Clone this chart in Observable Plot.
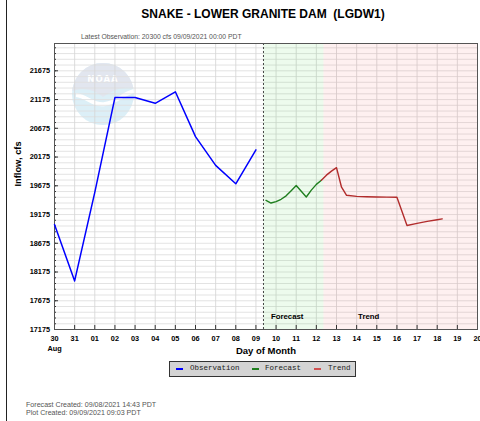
<!DOCTYPE html>
<html>
<head>
<meta charset="utf-8">
<script src="https://cdn.jsdelivr.net/npm/d3@7"></script>
<script src="https://cdn.jsdelivr.net/npm/@observablehq/plot@0.6"></script>
<style>
  body { margin: 0; background: #fff; font-family: Arial, "Liberation Sans", sans-serif; }
  #page { position: relative; width: 480px; height: 421px; overflow: hidden; background: #fff; }
  #edge { position: absolute; left: 6px; top: 0; height: 421px; border-left: 1.5px solid #222; }
  #title { position: absolute; left: 0; top: 7px; width: 526px; text-align: center; font-weight: bold; font-size: 12px; white-space: pre; color: #000; }
  #subtitle { position: absolute; left: 81px; top: 33px; font-size: 6.8px; color: #555; white-space: pre; }
  #chart { position: absolute; left: 0; top: 30px; }
  #legend { position: absolute; left: 169px; top: 361px; width: 185px; height: 14px; background: #d4d4d4; border: 1px solid #333; font-family: "Liberation Mono", "DejaVu Sans Mono", monospace; font-size: 7.5px; color: #222; }
  #legend .sw { position: absolute; top: 6px; width: 7px; height: 2px; }
  #legend .lb { position: absolute; top: 2px; white-space: pre; }
  #footer { position: absolute; left: 26px; top: 401px; font-size: 7.1px; color: #555; line-height: 8.3px; white-space: pre; }
</style>
</head>
<body>
<div id="page">
  <div id="edge"></div>
  <div id="title"></div>
  <div id="subtitle"></div>
  <div id="chart"></div>
  <div id="legend"></div>
  <div id="footer"></div>
</div>
<script>
// ---- Data ----
const titleText = "SNAKE - LOWER GRANITE DAM  (LGDW1)";
const subtitleText = "Latest Observation: 20300 cfs 09/09/2021 00:00 PDT";
const footerLines = ["Forecast Created: 09/08/2021 14:43 PDT", "Plot Created: 09/09/2021 09:03 PDT"];
const xTitle = "Day of Month";
const yTitle = "Inflow, cfs";

// day index 0 = Aug 30
const dayTicks = [0,1,2,3,4,5,6,7,8,9,10,11,12,13,14,15,16,17,18,19,20,21];
const dayLabels = ["30","31","01","02","03","04","05","06","07","08","09","10","11","12","13","14","15","16","17","18","19","20"];
const monthLabels = [{day: 0, text: "Aug"}];
const yMajor = [17175,17675,18175,18675,19175,19675,20175,20675,21175,21675];
const yDomain = [17175, 22150];

const obsDays = [0,1,2,3,4,5,6,7,8,9,10];
const obsFlow = [19000,18020,19560,21210,21210,21110,21310,20530,20030,19710,20300];

const fcDays = [10.5,10.75,11.0,11.25,11.5,11.75,12.0,12.25,12.5,12.75,13.0,13.25];
const fcFlow = [19420,19375,19400,19440,19500,19590,19680,19580,19480,19600,19700,19770];

const trDays = [13.25,13.5,13.75,14.0,14.25,14.5,15.0,15.5,16.0,16.5,17.0,17.5,18.0,18.5,19.0,19.25];
const trFlow = [19770,19860,19930,19990,19650,19510,19490,19485,19480,19478,19476,18985,19020,19055,19085,19100];

const nowDay = 10.375; // plot created 09/09 09:00
const regionNames = ["Forecast", "Trend"];
const regionStart = [10.375, 13.375];
const regionEnd = [13.375, 21];
const regionLabelDay = [11.55, 15.6];
const regionFill = ["#12c812", "#f03030"];

const seriesNames = ["Observation", "Forecast", "Trend"];
const seriesColors = ["#0000ff", "#1f7f1f", "#b22c2c"];
const legendColors = ["#0000ff", "#1f7f1f", "#d05050"];

// ---- Build tables ----
const obs = obsDays.map((d, i) => ({day: d, flow: obsFlow[i]}));
const fc = fcDays.map((d, i) => ({day: d, flow: fcFlow[i]}));
const tr = trDays.map((d, i) => ({day: d, flow: trFlow[i]}));
const regions = regionNames.map((n, i) => ({name: n, start: regionStart[i], end: regionEnd[i], labelDay: regionLabelDay[i], fill: regionFill[i]}));
const yMinor = d3.range(yDomain[0], yDomain[1], 100);

document.getElementById("title").textContent = titleText;
document.getElementById("subtitle").textContent = subtitleText;
document.getElementById("footer").textContent = footerLines.join("\n");

// NOAA watermark (decoration), placed relative to the frame
function noaaLogo(index, scales, values, dims) {
  const ns = "http://www.w3.org/2000/svg";
  const cx = dims.marginLeft + 49, cy = dims.marginTop + 51, r = 31;
  const g = document.createElementNS(ns, "g");
  g.setAttribute("opacity", "0.85");
  g.innerHTML = `
    <defs><clipPath id="noaaclip"><circle cx="${cx}" cy="${cy}" r="${r}"/></clipPath></defs>
    <g clip-path="url(#noaaclip)">
      <rect x="${cx - r}" y="${cy - r}" width="${2*r}" height="${2*r}" fill="#d6edf6"/>
      <path d="M${cx - r},${cy - r} H${cx + r} V${cy - 6} C${cx + 20},${cy - 8} ${cx + 10},${cy - 4} ${cx},${cy + 3} C${cx - 8},${cy - 4} ${cx - 18},${cy - 7} ${cx - r},${cy - 3} Z" fill="#dde2ed"/>
      <path d="M${cx - r + 4},${cy + 1} C${cx - 16},${cy + 2} ${cx - 10},${cy + 12} ${cx + 2},${cy + 10} C${cx + 14},${cy + 8} ${cx + 20},${cy} ${cx + r},${cy - 3}" fill="none" stroke="#ffffff" stroke-width="4"/>
    </g>
    <text x="${cx}" y="${cy - 12}" text-anchor="middle" font-family="'DejaVu Sans', Arial, sans-serif" font-weight="bold" font-size="8.5" fill="#ffffff" letter-spacing="1">NOAA</text>`;
  return g;
}

const fontFamily = "Arial, 'Liberation Sans', sans-serif";

const chart = Plot.plot({
  width: 480,
  height: 330,
  marginTop: 13,
  marginBottom: 31,
  marginLeft: 54,
  marginRight: 3,
  style: {background: "transparent", fontFamily, overflow: "visible", color: "#000"},
  x: {domain: [0, 21]},
  y: {domain: yDomain},
  marks: [
    noaaLogo,
    Plot.ruleY(yMinor, {stroke: "#dedede", strokeWidth: 1, strokeOpacity: 0.85}),
    Plot.ruleX(dayTicks, {stroke: "#d6d6d6", strokeWidth: 1, strokeOpacity: 0.85}),
    Plot.rect(regions, {x1: "start", x2: "end", fill: "fill", fillOpacity: 0.075}),
    Plot.ruleX([nowDay], {stroke: "#444", strokeWidth: 1, strokeDasharray: "2,2"}),
    // inward tick marks
    Plot.ruleY(yMinor, {x1: 0, x2: 0.1, stroke: "#333"}),
    Plot.ruleY(yMajor, {x1: 0, x2: 0.2, stroke: "#333"}),
    Plot.ruleX(dayTicks, {y1: yDomain[0], y2: yDomain[0] + 70, stroke: "#333"}),
    Plot.frame({stroke: "#555"}),
    Plot.axisY(yMajor, {tickSize: 0, tickPadding: 4.5, fontSize: 7.3, fontWeight: "bold", label: null, tickFormat: d => String(d)}),
    Plot.axisX(dayTicks, {tickSize: 0, tickPadding: 6, fontSize: 7.3, fontWeight: "bold", label: null, tickFormat: d => dayLabels[d]}),
    Plot.text(monthLabels, {x: "day", text: "text", frameAnchor: "bottom", dy: 21, fontSize: 7.3, fontWeight: "bold"}),
    Plot.text([xTitle], {frameAnchor: "bottom", dy: 24, fontSize: 9.5, fontWeight: "bold"}),
    Plot.text([yTitle], {frameAnchor: "left", dx: -36, rotate: -90, fontSize: 9.3, fontWeight: "bold"}),
    Plot.text(regions, {x: "labelDay", text: "name", frameAnchor: "bottom", dy: -11, fontSize: 7.8, fontWeight: "bold"}),
    Plot.line(obs, {x: "day", y: "flow", stroke: seriesColors[0], strokeWidth: 1.5}),
    Plot.line(fc, {x: "day", y: "flow", stroke: seriesColors[1], strokeWidth: 1.4}),
    Plot.line(tr, {x: "day", y: "flow", stroke: seriesColors[2], strokeWidth: 1.4})
  ]
});
document.getElementById("chart").appendChild(chart);

// Legend
const legend = document.getElementById("legend");
const swLeft = [6, 82, 144];
const lbLeft = [20, 95, 158];
seriesNames.forEach((n, i) => {
  const sw = document.createElement("div");
  sw.className = "sw";
  sw.style.left = swLeft[i] + "px";
  sw.style.background = legendColors[i];
  legend.appendChild(sw);
  const lb = document.createElement("div");
  lb.className = "lb";
  lb.style.left = lbLeft[i] + "px";
  lb.textContent = n;
  legend.appendChild(lb);
});
</script>
</body>
</html>
